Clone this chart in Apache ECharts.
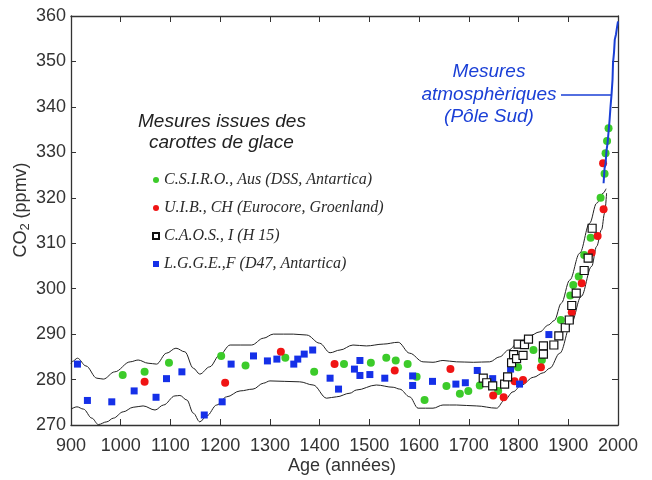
<!DOCTYPE html>
<html>
<head>
<meta charset="utf-8">
<style>
  html, body { margin: 0; padding: 0; background: #fff; }
  #chart { width: 652px; height: 480px; }
</style>
<script src="https://cdn.jsdelivr.net/npm/echarts@6/dist/echarts.min.js"></script>
</head>
<body>
<div id="chart"></div>
<script>
// [year, ppmv]
var csiro = [
  [1004, 281.0], [1048, 281.7], [1097, 283.7], [1202, 285.2], [1251, 283.1],
  [1331, 284.8], [1389, 281.7], [1449, 283.4], [1503, 283.7], [1534, 284.8],
  [1553, 284.2], [1577, 283.4], [1595, 280.6], [1611, 275.5], [1655, 278.6],
  [1682, 276.9], [1699, 277.5], [1722, 278.7], [1759, 277.5], [1799, 282.7],
  [1830, 286.5], [1847, 284.3], [1885, 293.1], [1904, 298.5], [1910, 300.8],
  [1921, 302.7], [1932, 307.4], [1945, 311.2], [1965, 320.0], [1973, 325.3],
  [1975, 329.8], [1978, 332.5], [1981, 335.3]
];
var uib = [
  [1048, 279.5], [1210, 279.3], [1322, 286.1], [1430, 283.4], [1551, 282.0],
  [1663, 282.3], [1749, 276.5], [1770, 276.1], [1792, 279.6], [1809, 279.9],
  [1845, 282.7], [1907, 294.8], [1927, 301.2], [1947, 307.9], [1959, 311.6],
  [1971, 317.5], [1970, 327.6]
];
var caos = [
  [1729, 280.3], [1736, 279.3], [1748, 278.6], [1772, 279.0], [1778, 280.6],
  [1786, 283.7], [1790, 285.5], [1796, 284.6], [1799, 287.8], [1809, 285.3],
  [1812, 287.7], [1820, 288.9], [1850, 287.4], [1850, 285.6], [1871, 287.6],
  [1881, 289.6], [1894, 291.4], [1902, 293.1], [1907, 296.3], [1916, 299.0],
  [1932, 304.0], [1940, 306.7], [1948, 313.3]
];
var lgge = [
  [913, 283.4], [933, 275.4], [982, 275.1], [1027, 277.5], [1071, 276.1],
  [1092, 280.2], [1123, 281.7], [1168, 272.2], [1204, 275.1], [1222, 283.4],
  [1267, 285.2], [1295, 284.1], [1314, 284.5], [1348, 283.4], [1356, 284.5],
  [1369, 285.6], [1386, 286.5], [1421, 280.3], [1438, 277.9], [1470, 282.3],
  [1481, 284.2], [1481, 280.9], [1501, 281.1], [1531, 280.3], [1587, 280.8],
  [1587, 278.7], [1627, 279.6], [1674, 279.0], [1693, 279.3], [1717, 282.0],
  [1748, 280.2], [1784, 282.3], [1802, 279.0], [1861, 289.9]
];
var atmosphere = [
  [1971, 323.2], [1973, 326.5], [1975, 327.5], [1977, 330.5], [1979, 332],
  [1981, 334.5], [1983, 337], [1985, 340.1], [1987, 342.7], [1989, 346],
  [1990, 349.7], [1992, 352], [1993.5, 354.8], [1996, 356], [1998, 357.5],
  [2000, 358.8]
];
var upperBand = [
  [900, 283.5], [903, 284], [913, 284.7], [930, 283], [952, 280.3], [965, 280.1],
  [988, 281.7], [1019, 283.9], [1035, 284.3], [1055, 283.6], [1072, 283.4],
  [1092, 285.8], [1111, 286.9], [1129, 286.1], [1146, 282.5], [1159, 281.2],
  [1179, 282.8], [1199, 285.4], [1220, 287.6], [1263, 287.6], [1287, 289.1],
  [1307, 290], [1347, 290], [1374, 289.8], [1400, 288], [1421, 285.9],
  [1441, 286.5], [1467, 287.6], [1494, 287.4], [1528, 287.8], [1558, 288.2],
  [1581, 285.8], [1608, 283.9], [1628, 283.8], [1648, 284.2], [1675, 283.9],
  [1709, 283.8], [1742, 283.9], [1762, 285], [1780, 286.5], [1800, 288.2],
  [1820, 289.5], [1843, 290.5], [1860, 292], [1872, 293], [1886, 296.8],
  [1903, 301.9], [1923, 307.8], [1943, 314.4], [1957, 318.8], [1970, 321],
  [1976, 322]
];
var lowerBand = [
  [900, 273.5], [912, 274], [925, 273.5], [942, 271.5], [955, 270.1], [972, 270.7],
  [985, 271.5], [1005, 272.9], [1025, 273.9], [1045, 274.2], [1069, 273.3],
  [1086, 274.4], [1109, 276.4], [1119, 276.5], [1133, 275.5], [1146, 272.6],
  [1159, 270.7], [1173, 272], [1193, 274.4], [1213, 276.2], [1240, 277.5],
  [1266, 277.9], [1287, 279.2], [1300, 279.7], [1360, 279.5], [1387, 278.8],
  [1414, 275.9], [1434, 276.2], [1461, 277], [1474, 277.7], [1514, 278.8],
  [1548, 278.3], [1561, 277.9], [1581, 276.2], [1598, 273.7], [1628, 273.7],
  [1648, 274.4], [1675, 274.4], [1715, 274.2], [1756, 273.7], [1772, 275.5],
  [1789, 277.3], [1806, 278.8], [1830, 280.5], [1850, 281.5], [1863, 282.5],
  [1883, 285.8], [1906, 292.4], [1926, 298.3], [1947, 304.9], [1957, 309.3],
  [1967, 313], [1973, 316.6], [1977, 321]
];
var seriesNames = [
  'C.S.I.R.O., Aus (DSS, Antartica)',
  'U.I.B., CH (Eurocore, Groenland)',
  'C.A.O.S., I (H 15)',
  'L.G.G.E.,F (D47, Antartica)'
];
var noteLines = ['Mesures', 'atmosphèriques', '(Pôle Sud)'];

var ink = '#333';
var green = '#3ccb2a';
var red = '#f01414';
var blue = '#1530e8';
var atmBlue = '#1a3fd6';
var sans = 'Liberation Sans, Arial, sans-serif';
var serif = 'Liberation Serif, Times New Roman, serif';

var chart = echarts.init(document.getElementById('chart'), null, { renderer: 'canvas' });

var xBase = {
  type: 'value', min: 900, max: 2000, interval: 100,
  axisLine: { show: true, lineStyle: { color: ink, width: 1.3 } },
  axisTick: { show: true, inside: true, length: 6, lineStyle: { color: ink } },
  splitLine: { show: false }
};
var yBase = {
  type: 'value', min: 270, max: 360, interval: 10,
  axisLine: { show: true, lineStyle: { color: ink, width: 1.3 } },
  axisTick: { show: true, inside: true, length: 5, lineStyle: { color: ink } },
  splitLine: { show: false }
};
var plain = function (v) { return String(v); };

function band(data) {
  return {
    type: 'line', data: data, smooth: 0.35, smoothMonotone: 'x',
    showSymbol: false, symbol: 'none', silent: true,
    lineStyle: { color: '#222', width: 1 }, z: 1
  };
}

var graphics = [
  {
    type: 'text', left: 138, top: 112,
    style: { text: 'Mesures issues des', fill: '#222', font: 'italic 19px ' + sans }
  },
  {
    type: 'text', left: 149, top: 133,
    style: { text: 'carottes de glace', fill: '#222', font: 'italic 19px ' + sans }
  },
  {
    type: 'line', shape: { x1: 561, y1: 95, x2: 612, y2: 95 },
    style: { stroke: atmBlue, lineWidth: 1.5 }
  },
  {
    type: 'text', x: 342, y: 466,
    style: {
      text: 'Age (années)', fill: ink, font: '18px ' + sans,
      align: 'center', verticalAlign: 'middle'
    }
  },
  {
    type: 'text', x: 21, y: 210, rotation: Math.PI / 2,
    style: {
      text: '{a|CO}{b|2}{a| (ppmv)}', align: 'center', verticalAlign: 'middle',
      rich: {
        a: { fontSize: 18, fontFamily: sans, fill: ink, lineHeight: 22 },
        b: { fontSize: 13, fontFamily: sans, fill: ink, lineHeight: 22, verticalAlign: 'bottom' }
      }
    }
  }
];
var noteY = [72, 95, 117];
noteLines.forEach(function (t, i) {
  graphics.push({
    type: 'text', x: 489, y: noteY[i],
    style: { text: t, fill: atmBlue, font: 'italic 19px ' + sans, align: 'center', verticalAlign: 'middle' }
  });
});

chart.setOption({
  animation: false,
  grid: { left: 71, right: 34, top: 16, bottom: 55 },
  xAxis: [
    Object.assign({}, xBase, {
      position: 'bottom',
      axisLabel: { color: ink, fontSize: 18, fontFamily: sans, margin: 12, formatter: plain }
    }),
    Object.assign({}, xBase, { position: 'top', axisLabel: { show: false } })
  ],
  yAxis: [
    Object.assign({}, yBase, {
      position: 'left',
      axisLabel: { color: ink, fontSize: 18, fontFamily: sans, margin: 5, formatter: plain }
    }),
    Object.assign({}, yBase, {
      position: 'right',
      axisTick: { show: true, inside: true, length: 6, lineStyle: { color: ink } },
      axisLabel: { show: false }
    })
  ],
  legend: {
    orient: 'vertical', left: 147, top: 167,
    itemWidth: 6, itemHeight: 6, itemGap: 12,
    data: seriesNames,
    textStyle: { color: '#2a2a2a', fontFamily: serif, fontStyle: 'italic', fontSize: 16, lineHeight: 16 },
    selectedMode: false
  },
  series: [
    band(upperBand),
    band(lowerBand),
    {
      name: seriesNames[0], type: 'scatter', data: csiro, symbol: 'circle', symbolSize: 8,
      itemStyle: { color: green, opacity: 1 }, z: 3
    },
    {
      name: seriesNames[1], type: 'scatter', data: uib, symbol: 'circle', symbolSize: 8,
      itemStyle: { color: red, opacity: 1 }, z: 3
    },
    {
      name: seriesNames[2], type: 'scatter', data: caos, symbol: 'rect', symbolSize: 8,
      itemStyle: { color: '#fff', borderColor: '#111', borderWidth: 1.2, opacity: 1 }, z: 4
    },
    {
      name: seriesNames[3], type: 'scatter', data: lgge, symbol: 'rect', symbolSize: 7,
      itemStyle: { color: blue, opacity: 1 }, z: 3
    },
    {
      type: 'line', data: atmosphere, showSymbol: false, symbol: 'none', silent: true,
      lineStyle: { color: atmBlue, width: 2 }, z: 5
    }
  ],
  graphic: graphics
});
</script>
</body>
</html>
